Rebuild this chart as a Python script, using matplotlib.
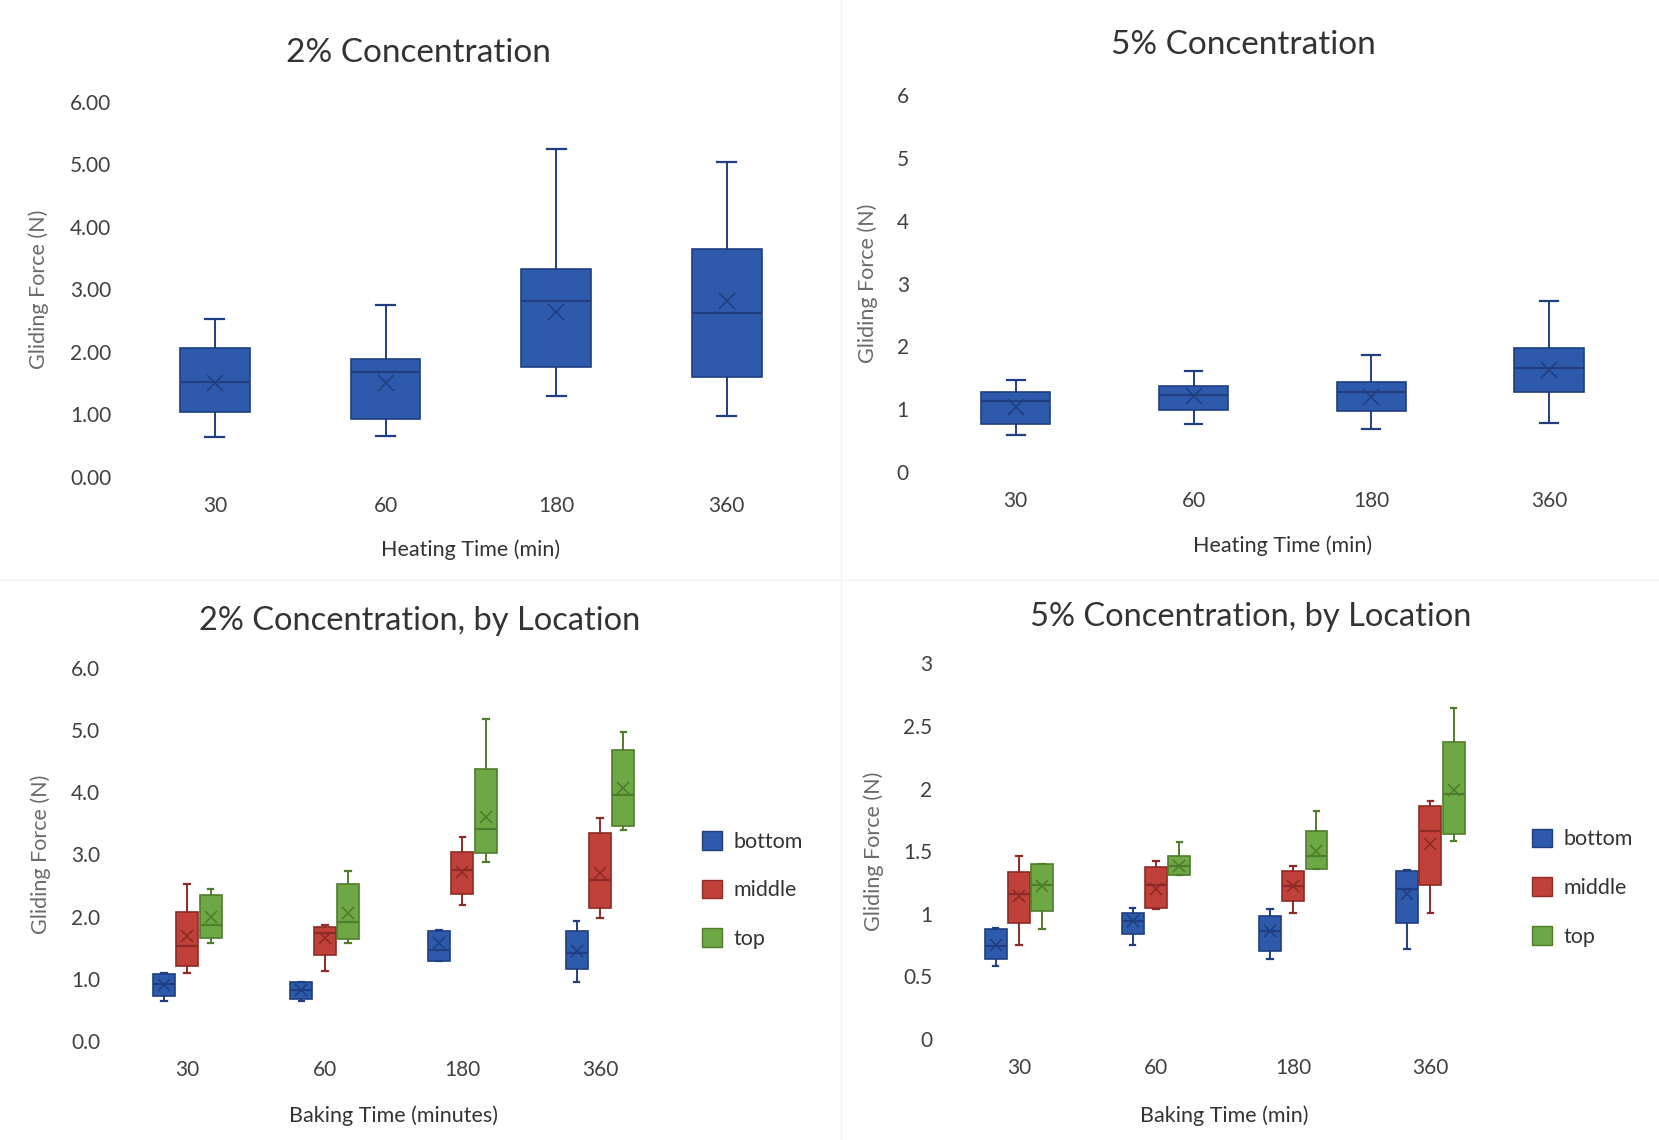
import matplotlib.pyplot as plt
from matplotlib.patches import Patch

# -----------------------------
# Data (whisker low, q1, median, q3, whisker high, mean)
# -----------------------------
TIMES = ["30", "60", "180", "360"]
LOCATIONS = ["bottom", "middle", "top"]

# 2% concentration, all locations
C2_LOW = [0.64, 0.65, 1.29, 0.97]
C2_Q1 = [1.04, 0.93, 1.76, 1.60]
C2_MED = [1.51, 1.68, 2.81, 2.62]
C2_Q3 = [2.06, 1.88, 3.32, 3.64]
C2_HIGH = [2.53, 2.75, 5.24, 5.04]
C2_MEAN = [1.50, 1.50, 2.64, 2.81]

# 5% concentration, all locations
C5_LOW = [0.59, 0.76, 0.68, 0.78]
C5_Q1 = [0.76, 0.98, 0.97, 1.27]
C5_MED = [1.13, 1.23, 1.27, 1.66]
C5_Q3 = [1.27, 1.37, 1.43, 1.98]
C5_HIGH = [1.47, 1.60, 1.86, 2.72]
C5_MEAN = [1.04, 1.21, 1.20, 1.62]

# 2% concentration by location, one row per heating time
C2_BOTTOM = [[0.65, 0.72, 0.92, 1.08, 1.09, 0.90],
             [0.65, 0.67, 0.82, 0.95, 0.95, 0.82],
             [1.28, 1.29, 1.46, 1.77, 1.79, 1.57],
             [0.95, 1.15, 1.41, 1.76, 1.93, 1.44]]
C2_MIDDLE = [[1.09, 1.21, 1.52, 2.07, 2.53, 1.68],
             [1.13, 1.38, 1.73, 1.83, 1.87, 1.65],
             [2.19, 2.36, 2.75, 3.04, 3.28, 2.72],
             [1.97, 2.14, 2.59, 3.35, 3.58, 2.70]]
C2_TOP = [[1.57, 1.66, 1.87, 2.35, 2.44, 2.00],
          [1.57, 1.64, 1.92, 2.53, 2.73, 2.05],
          [2.88, 3.02, 3.40, 4.37, 5.17, 3.60],
          [3.39, 3.46, 3.95, 4.67, 4.97, 4.06]]

# 5% concentration by location
C5_BOTTOM = [[0.58, 0.64, 0.74, 0.88, 0.89, 0.75],
             [0.75, 0.84, 0.94, 1.01, 1.05, 0.94],
             [0.64, 0.70, 0.86, 0.98, 1.04, 0.86],
             [0.72, 0.93, 1.20, 1.34, 1.35, 1.16]]
C5_MIDDLE = [[0.75, 0.93, 1.16, 1.33, 1.46, 1.14],
             [1.04, 1.05, 1.23, 1.37, 1.42, 1.20],
             [1.01, 1.10, 1.22, 1.34, 1.38, 1.22],
             [1.01, 1.23, 1.66, 1.86, 1.90, 1.56]]
C5_TOP = [[0.88, 1.02, 1.23, 1.40, 1.40, 1.22],
          [1.31, 1.31, 1.38, 1.46, 1.57, 1.38],
          [1.36, 1.36, 1.46, 1.66, 1.82, 1.50],
          [1.58, 1.64, 1.96, 2.37, 2.64, 1.99]]

# -----------------------------
# Style
# -----------------------------
FONT = ["Lato", "DejaVu Sans"]
FILL = {"bottom": "#2d5aab", "middle": "#c0413a", "top": "#6ea844"}
EDGE = {"bottom": "#1f3f82", "middle": "#8f2b24", "top": "#4f7d2c"}
TEXT = "#333333"
TICK = "#404040"
LABEL = "#6a6a6a"

plt.rcParams["font.family"] = FONT


def stats(low, q1, med, q3, high, mean):
    return {"whislo": low, "q1": q1, "med": med, "q3": q3,
            "whishi": high, "mean": mean, "fliers": []}


def draw_boxes(ax, rows, positions, width, capwidth, loc):
    st = [stats(*r) for r in rows]
    ax.bxp(st, positions=positions, widths=width, capwidths=capwidth,
           patch_artist=True, showmeans=True, showfliers=False,
           boxprops=dict(facecolor=FILL[loc], edgecolor=EDGE[loc], linewidth=1.2),
           medianprops=dict(color=EDGE[loc], linewidth=1.6),
           whiskerprops=dict(color=EDGE[loc], linewidth=1.4),
           capprops=dict(color=EDGE[loc], linewidth=1.6),
           meanprops=dict(marker="x", markeredgecolor=EDGE[loc],
                          markersize=11 if width > 0.3 else 9, markeredgewidth=1.2))


def style_axes(ax, ylim, yticks, yfmt, ylab_x, xlabel, xlab_y):
    ax.set_xlim(-0.5, 3.5)
    ax.set_ylim(*ylim)
    ax.set_yticks(yticks)
    ax.set_yticklabels([yfmt.format(v) for v in yticks])
    ax.set_xticks(range(len(TIMES)))
    ax.set_xticklabels(TIMES)
    for s in ax.spines.values():
        s.set_visible(False)
    ax.tick_params(axis="both", length=0, labelsize=15, colors=TICK)
    ax.tick_params(axis="y", pad=13)
    ax.tick_params(axis="x", pad=14)
    ax.set_ylabel("Gliding Force (N)", fontsize=15.5, color=LABEL)
    ax.yaxis.set_label_coords(ylab_x, 0.5)
    ax.yaxis.label.set_va("center")
    ax.set_xlabel(xlabel, fontsize=15.5, color=TEXT)
    ax.xaxis.set_label_coords(0.5, xlab_y)
    ax.xaxis.label.set_va("center")


fig = plt.figure(figsize=(16.59, 11.40), dpi=100)
W, H = 1659.0, 1140.0

# faint scan dividers between the panels
fig.add_artist(plt.Line2D([841 / W, 841 / W], [0, 1], color="#f2f2f2", lw=1))
fig.add_artist(plt.Line2D([0, 1], [1 - 580 / H, 1 - 580 / H], color="#f4f4f4", lw=1))

# -----------------------------
# 2% Concentration
# -----------------------------
ax1 = fig.add_axes([0.0781, 0.5816, 0.4114, 0.3293])
rows = list(zip(C2_LOW, C2_Q1, C2_MED, C2_Q3, C2_HIGH, C2_MEAN))
draw_boxes(ax1, rows, range(4), 0.41, 0.11, "bottom")
style_axes(ax1, (0, 6), [0, 1, 2, 3, 4, 5, 6], "{:.2f}", -0.133,
           "Heating Time (min)", -0.195)
fig.text(418 / W, 1 - 53 / H, "2% Concentration", fontsize=24, color=TEXT,
         ha="center", va="center")

# -----------------------------
# 5% Concentration
# -----------------------------
ax2 = fig.add_axes([0.5587, 0.5861, 0.4286, 0.3304])
rows = list(zip(C5_LOW, C5_Q1, C5_MED, C5_Q3, C5_HIGH, C5_MEAN))
draw_boxes(ax2, rows, range(4), 0.39, 0.1, "bottom")
style_axes(ax2, (0, 6), [0, 1, 2, 3, 4, 5, 6], "{:.0f}", -0.083,
           "Heating Time (min)", -0.197)
fig.text(1243 / W, 1 - 45.5 / H, "5% Concentration", fontsize=24, color=TEXT,
         ha="center", va="center")

# -----------------------------
# By location panels
# -----------------------------
OFFSETS = {"bottom": -0.17, "middle": 0.0, "top": 0.17}
BOX_W = 0.16
CAP_W = 0.04

ax3 = fig.add_axes([0.0714, 0.0868, 0.3317, 0.3276])
for loc, rows in zip(LOCATIONS, [C2_BOTTOM, C2_MIDDLE, C2_TOP]):
    draw_boxes(ax3, rows, [i + OFFSETS[loc] for i in range(4)], BOX_W, CAP_W, loc)
style_axes(ax3, (0, 6), [0, 1, 2, 3, 4, 5, 6], "{:.1f}", -0.142,
           "Baking Time (minutes)", -0.201)
fig.text(420 / W, 1 - 621 / H, "2% Concentration, by Location", fontsize=23.5,
         color=TEXT, ha="center", va="center")

ax4 = fig.add_axes([0.5728, 0.0886, 0.3307, 0.3295])
for loc, rows in zip(LOCATIONS, [C5_BOTTOM, C5_MIDDLE, C5_TOP]):
    draw_boxes(ax4, rows, [i + OFFSETS[loc] for i in range(4)], BOX_W, CAP_W, loc)
style_axes(ax4, (0, 3), [0, 0.5, 1, 1.5, 2, 2.5, 3], "{:g}", -0.139,
           "Baking Time (min)", -0.203)
fig.text(1250.6 / W, 1 - 616.8 / H, "5% Concentration, by Location", fontsize=23.5,
         color=TEXT, ha="center", va="center")

handles = [Patch(facecolor=FILL[l], edgecolor=EDGE[l], label=l) for l in LOCATIONS]
for x0, y0 in [(702 / W, 1 - 890 / H), (1532 / W, 1 - 887.7 / H)]:
    fig.legend(handles=handles, loc="center left", bbox_to_anchor=(x0, y0),
               frameon=False, fontsize=15.5, handlelength=0.95, handleheight=0.95,
               handletextpad=0.5, labelspacing=1.3, borderpad=0, borderaxespad=0,
               labelcolor=TEXT)

fig.savefig("out.png", dpi=100)
plt.close(fig)
